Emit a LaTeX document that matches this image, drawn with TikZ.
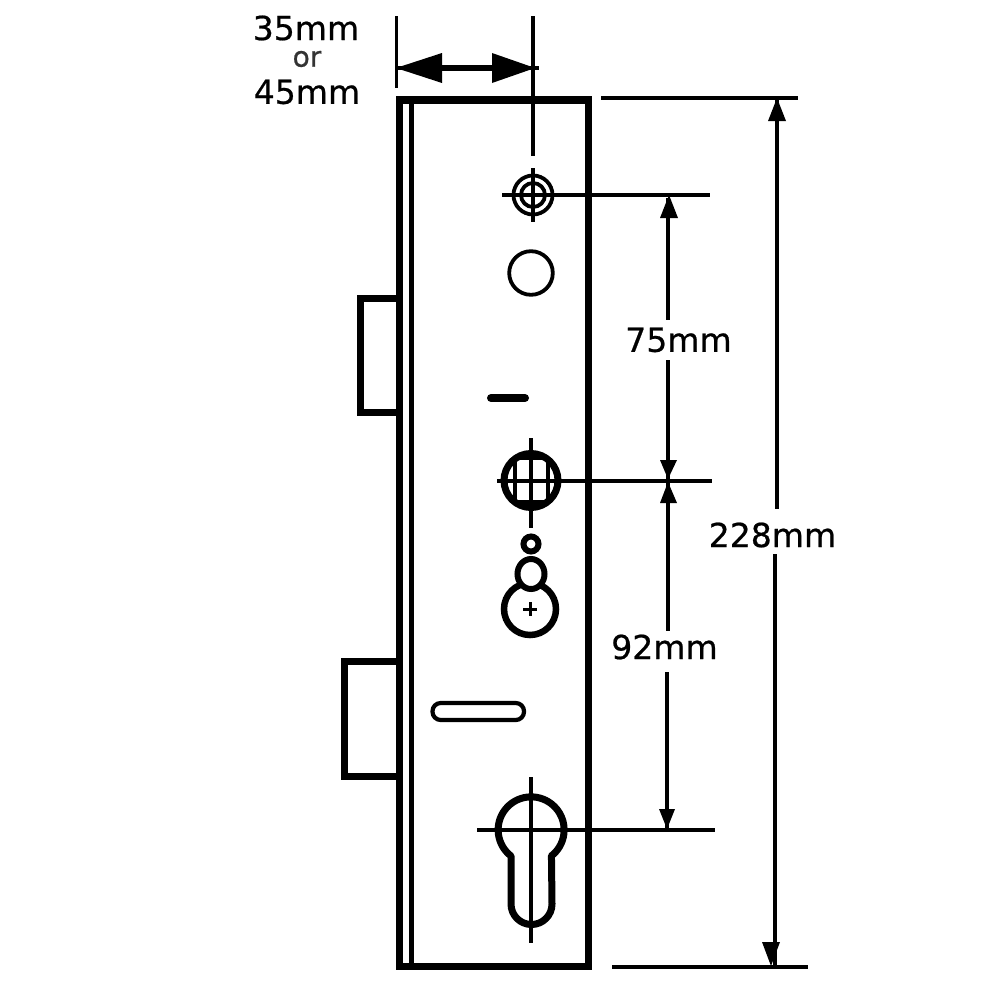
\documentclass[tikz,border=0pt]{standalone}
\usepackage{fontspec}
\setmainfont{DejaVu Sans}
\newfontfamily\dimfont[RawFeature={embolden=0.6}]{DejaVu Sans}
\tikzset{
  px/.style={line width=#1*0.2845pt},
  heavy/.style={draw=black,px=7,line join=miter},
  dimline/.style={draw=black,px=3.4},
  feature/.style={draw=black,fill=white},
  head/.style={fill=black,draw=none},
  lbl/.style={inner sep=0pt,font=\dimfont\fontsize{9.4pt}{11pt}\selectfont,text=black},
  lblsmall/.style={inner sep=0pt,font=\dimfont\fontsize{8pt}{10pt}\selectfont,text=black!80}
}
\begin{document}
\begin{tikzpicture}[x=0.01cm,y=-0.01cm]
\useasboundingbox[fill=white] (0,0) rectangle (1000,1000);
% plate
\draw[heavy] (399,100) rectangle (588,966);
\draw[draw=black,px=5] (411,100) -- (411,966);
% bolts
\draw[heavy] (399,298) -- (360,298) -- (360,412) -- (399,412);
\draw[heavy] (399,661) -- (344,661) -- (344,776) -- (399,776);
% top dimension
\draw[dimline] (396.5,16) -- (396.5,88);
\draw[dimline] (533,16) -- (533,156);
\draw[draw=black,px=6] (440,68) -- (494,68);
\draw[draw=black,px=3.2] (396,68) -- (539,68);
\fill[head] (396,68) -- (442,53) -- (442,83) -- cycle;
\fill[head] (535,68) -- (492,53) -- (492,83) -- cycle;
\node[lbl] (t35) at (306,28) {35mm};
\node[lblsmall] (tor) at (307,59) {or};
\node[lbl] (t45) at (307,92) {45mm};
% target
\draw[draw=black,px=3.8] (533,195) circle[radius=19.5];
\draw[draw=black,px=3.8] (533,195) circle[radius=12];
\draw[draw=black,px=3.4] (533,168) -- (533,222);
\draw[draw=black,px=3.4] (502,195) -- (710,195);
% plain hole
\draw[draw=black,px=3.8] (531,273) circle[radius=21.8];
% dash
\draw[draw=black,px=8,line cap=round] (491,398) -- (525,398);
% spindle
\begin{scope}
\clip (531,480.5) circle[radius=27];
\draw[draw=black,px=3.4] (515,450) -- (515,510);
\draw[draw=black,px=3.4] (548,450) -- (548,510);
\draw[draw=black,px=3.4] (500,458) -- (560,458);
\draw[draw=black,px=3.4] (500,502) -- (560,502);
\end{scope}
\draw[draw=black,px=7] (531,480.5) circle[radius=27];
\draw[draw=black,px=3.4] (531,438) -- (531,528);
\draw[draw=black,px=3.4] (497,481) -- (712,481);
% small ring
\draw[draw=black,px=6] (531,544) circle[radius=7.5];
% big circle with oval
\draw[draw=black,px=6.5] (530,609) circle[radius=26];
\draw[feature,px=6] (531,574) ellipse[x radius=13.5,y radius=15];
\draw[draw=black,px=3] (523,609) -- (537,609);
\draw[draw=black,px=3] (530,602) -- (530,616);
% slot
\draw[draw=black,px=4.2,rounded corners=8.2*0.2845pt] (432.5,703) rectangle (524,720);
% euro cylinder
\draw[draw=black,px=7,line join=round] (511,856) arc[start angle=127.6,end angle=412.4,radius=33]
  -- (551.5,860) -- (552,904) arc[start angle=0,end angle=180,radius=20.5] -- (511,860) -- cycle;
\draw[dimline] (531,777) -- (531,943);
\draw[dimline] (477,830) -- (715,830);
% right dimensions
\draw[dimline] (601,98) -- (798,98);
\draw[dimline] (612,967) -- (808,967);
\draw[dimline] (777,100) -- (777,509);
\draw[dimline] (775,554) -- (775,965);
\fill[head] (777,98) -- (768,121) -- (786,121) -- cycle;
\fill[head] (771,966) -- (762,942) -- (780,942) -- cycle;
\node[lbl] (t228) at (772.5,535) {228mm};
% 75
\draw[dimline] (668,198) -- (668,320);
\draw[dimline] (668,360) -- (668,480);
\fill[head] (669,195) -- (660,218) -- (678,218) -- cycle;
\fill[head] (668,479) -- (660,460) -- (677,460) -- cycle;
\node[lbl] (t75) at (678.5,340) {75mm};
% 92
\draw[dimline] (668,482) -- (668,631);
\draw[dimline] (667,672) -- (667,828);
\fill[head] (668,482) -- (660,503) -- (677,503) -- cycle;
\fill[head] (667,829) -- (659,809) -- (675,809) -- cycle;
\node[lbl] (t92) at (664.5,647) {92mm};
\end{tikzpicture}
\end{document}
